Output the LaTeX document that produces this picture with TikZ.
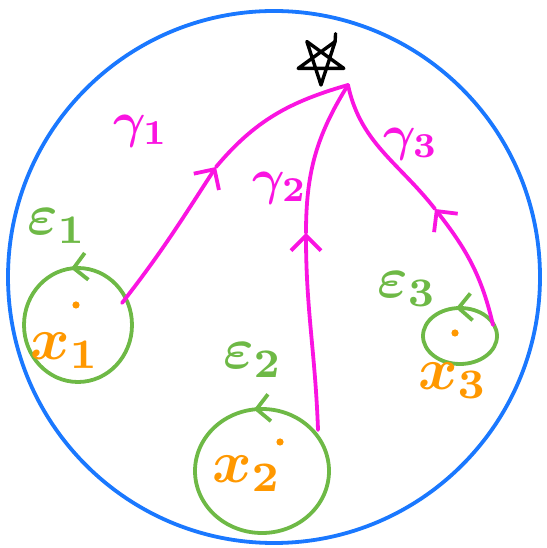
\documentclass[tikz,border=0pt]{standalone}
\usetikzlibrary{arrows.meta,decorations.markings}
\definecolor{cblue}{RGB}{26,120,255}
\definecolor{cmag}{RGB}{250,20,225}
\definecolor{cgreen}{RGB}{110,185,70}
\definecolor{corange}{RGB}{255,152,0}
\begin{document}
\begin{tikzpicture}[x=1pt,y=1pt,line cap=round,line join=round,
  gam/.style={draw=cmag,line width=3.8pt},
  barb/.style={-{Straight Barb[length=15pt,width=30pt]}},
  ring/.style={draw=cgreen,line width=3.8pt,postaction={decorate},
    decoration={markings,mark=at position 0.27 with {\arrow[cgreen]{Straight Barb[length=13pt,width=27pt]}}}},
  lab/.style={inner sep=0pt,font=\boldmath},
  dot/.style={fill=corange}]
\useasboundingbox (0,0) rectangle (546,548);
% outer disc
\draw[cblue,line width=3.8pt] (274,271) circle [radius=266];
% star
\draw[black,line width=3.4pt,shift={(321,487)}]
  (-90:24) -- (54:24) -- (198:24) -- (-18:24) -- (126:24) -- cycle;
\draw[black,line width=3.4pt,shift={(321,487)}] (54:24) -- (62:31);
% small circles
\draw[ring] (78,223) ellipse [x radius=54,y radius=57];
\draw[ring] (262,77) ellipse [x radius=67,y radius=62];
\draw[ring] (460,212) ellipse [x radius=37,y radius=28];
% centres
\fill[dot] (76,243) circle [radius=3.6];
\fill[dot] (280,106) circle [radius=3.6];
\fill[dot] (455,215) circle [radius=3.6];
% paths
\coordinate (P) at (348,463);
\coordinate (A1) at (122,245);
\coordinate (M1) at (216,381);
\coordinate (A2) at (318,118);
\coordinate (M2) at (306,315);
\coordinate (A3) at (493,223);
\coordinate (M3) at (435,339);
\draw[gam,barb] (A1) to[out=52,in=237] (M1);
\draw[gam] (M1) to[out=50,in=196] (P);
\draw[gam,barb] (A2) to[out=92,in=-90] (M2);
\draw[gam] (M2) to[out=90,in=238] (P);
\draw[gam,barb] (A3) to[out=103,in=-52] (M3);
\draw[gam] (M3) to[out=128,in=-78] (P);
% labels
\node[lab,text=cmag,scale=5] (g1) at (141,417) {$\gamma_1$};
\node[lab,text=cmag,scale=5] (g2) at (280,360) {$\gamma_2$};
\node[lab,text=cmag,scale=5] (g3) at (411,404) {$\gamma_3$};
\node[lab,text=cgreen,scale=5.8] (e1) at (57,322) {$\varepsilon_1$};
\node[lab,text=cgreen,scale=5.8] (e2) at (253,188) {$\varepsilon_2$};
\node[lab,text=cgreen,scale=5.8] (e3) at (407,259) {$\varepsilon_3$};
\node[lab,text=corange,scale=6] (x1) at (65,197) {$x_1$};
\node[lab,text=corange,scale=6] (x2) at (247,74) {$x_2$};
\node[lab,text=corange,scale=6] (x3) at (453,167) {$x_3$};
\end{tikzpicture}
\end{document}
